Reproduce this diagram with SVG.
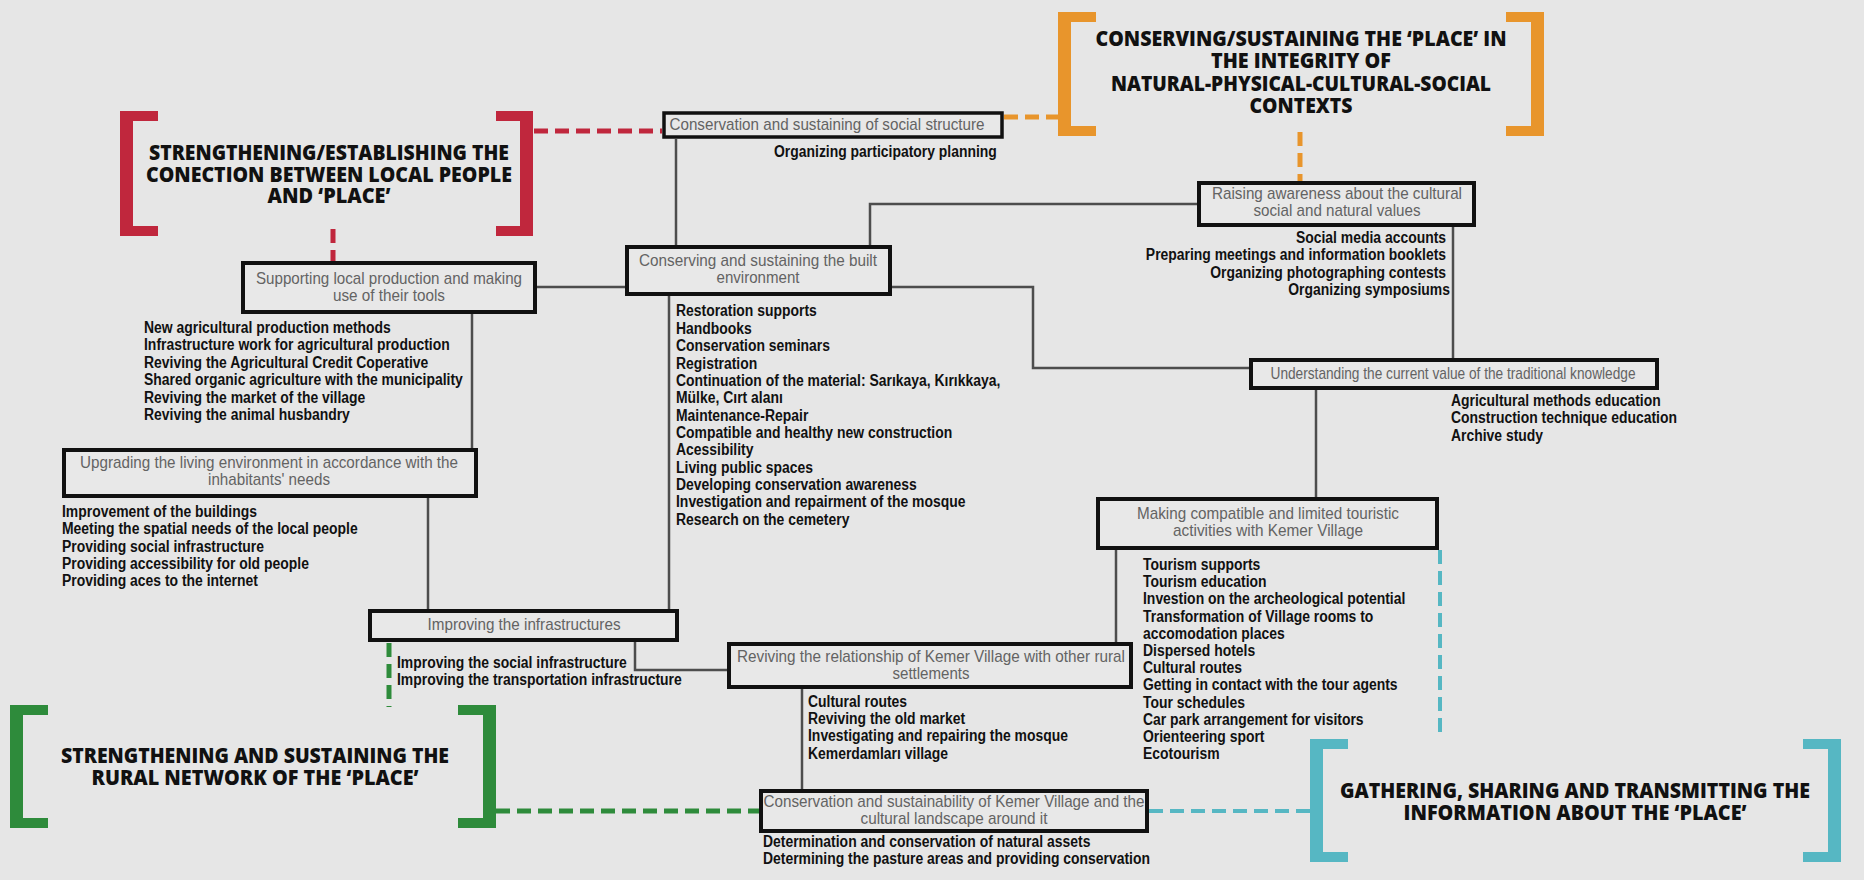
<svg xmlns="http://www.w3.org/2000/svg" width="1864" height="880" viewBox="0 0 1864 880">
<style>
.bg{fill:#e6e6e6}
.box{fill:#e8e8e8;stroke:#111;stroke-width:4}
.t{font-family:"Liberation Sans",Arial,sans-serif;font-size:17px;fill:#636363;text-anchor:middle}
.l{font-family:"Liberation Sans",Arial,sans-serif;font-size:17px;font-weight:700;fill:#111}
.r{text-anchor:end}
.h{font-family:"Open Sans","Liberation Sans",sans-serif;font-weight:800;font-size:20.5px;fill:#111;text-anchor:middle}
.c{fill:none;stroke:#4d4d4d;stroke-width:2.5}
.d{fill:none;stroke-width:5;stroke-dasharray:14 7}
.red{stroke:#c0273d}.redf{fill:#c0273d}
.org{stroke:#e8952c}.orgf{fill:#e8952c}
.grn{stroke:#2e8b3b}.grnf{fill:#2e8b3b}
.cyn{stroke:#56b7c3}.cynf{fill:#56b7c3}
</style>
<rect class="bg" x="0" y="0" width="1864" height="880"/>

<g id="connectors">
  <path class="c" d="M676,139 V245"/>
  <path class="c" d="M1197,204 H870 V245"/>
  <path class="c" d="M537,287 H625"/>
  <path class="c" d="M892,287 H1033 V368 H1249"/>
  <path class="c" d="M1453,227 V358"/>
  <path class="c" d="M1316,390 V497"/>
  <path class="c" d="M472,314 V448"/>
  <path class="c" d="M428,498 V609"/>
  <path class="c" d="M669,296 V609"/>
  <path class="c" d="M635,642 V670 H727"/>
  <path class="c" d="M1116,550 V642"/>
  <path class="c" d="M802,689 V789"/>
  <path class="d red" d="M534,131 H662"/>
  <path class="d red" d="M333,229 V261"/>
  <path class="d org" d="M1004,117 H1058"/>
  <path class="d org" d="M1300,132 V181"/>
  <path class="d grn" d="M389,643 V707"/>
  <path class="d grn" d="M496,811 H759"/>
  <path class="d cyn" d="M1440,550 V737" style="stroke-width:4"/>
  <path class="d cyn" d="M1149,811 H1310" style="stroke-width:4"/>
</g>

<g id="theme-red">
  <path class="redf" d="M120,111 H158 V121 H133 V226 H158 V236 H120 Z"/>
  <path class="redf" d="M533,111 H496 V121 H520 V226 H496 V236 H533 Z"/>
  <text class="h" x="329" y="160" textLength="360" lengthAdjust="spacingAndGlyphs">STRENGTHENING/ESTABLISHING THE</text>
  <text class="h" x="329" y="182" textLength="366" lengthAdjust="spacingAndGlyphs">CONECTION BETWEEN LOCAL PEOPLE</text>
  <text class="h" x="329" y="203" textLength="123" lengthAdjust="spacingAndGlyphs">AND ‘PLACE’</text>
</g>

<g id="theme-orange">
  <path class="orgf" d="M1058,12 H1096 V22 H1071 V126 H1096 V136 H1058 Z"/>
  <path class="orgf" d="M1544,12 H1506 V22 H1531 V126 H1506 V136 H1544 Z"/>
  <text class="h" x="1301" y="46" textLength="411" lengthAdjust="spacingAndGlyphs">CONSERVING/SUSTAINING THE ‘PLACE’ IN</text>
  <text class="h" x="1301" y="68" textLength="180" lengthAdjust="spacingAndGlyphs">THE INTEGRITY OF</text>
  <text class="h" x="1301" y="91" textLength="380" lengthAdjust="spacingAndGlyphs">NATURAL-PHYSICAL-CULTURAL-SOCIAL</text>
  <text class="h" x="1301" y="113" textLength="103" lengthAdjust="spacingAndGlyphs">CONTEXTS</text>
</g>

<g id="theme-green">
  <path class="grnf" d="M10,705 H48 V715 H23 V818 H48 V828 H10 Z"/>
  <path class="grnf" d="M496,705 H458 V715 H483 V818 H458 V828 H496 Z"/>
  <text class="h" x="255" y="763" textLength="388" lengthAdjust="spacingAndGlyphs">STRENGTHENING AND SUSTAINING THE</text>
  <text class="h" x="255" y="785" textLength="327" lengthAdjust="spacingAndGlyphs">RURAL NETWORK OF THE ‘PLACE’</text>
</g>

<g id="theme-cyan">
  <path class="cynf" d="M1310,739 H1348 V749 H1323 V852 H1348 V862 H1310 Z"/>
  <path class="cynf" d="M1841,739 H1803 V749 H1828 V852 H1803 V862 H1841 Z"/>
  <text class="h" x="1575" y="798" textLength="470" lengthAdjust="spacingAndGlyphs">GATHERING, SHARING AND TRANSMITTING THE</text>
  <text class="h" x="1575" y="820" textLength="343" lengthAdjust="spacingAndGlyphs">INFORMATION ABOUT THE ‘PLACE’</text>
</g>

<g id="node-social">
  <rect class="box" x="664" y="113" width="338" height="24" style="stroke-width:3.5"/>
  <text class="t" x="827" y="130" textLength="315" lengthAdjust="spacingAndGlyphs">Conservation and sustaining of social structure</text>
  <g transform="translate(774 0) scale(0.82 1)">
    <text class="l" x="0" y="157">Organizing participatory planning</text>
  </g>
</g>

<g id="node-supporting">
  <rect class="box" x="243" y="263" width="292" height="49"/>
  <text class="t" x="389" y="284" textLength="266" lengthAdjust="spacingAndGlyphs">Supporting local production and making</text>
  <text class="t" x="389" y="301" textLength="112" lengthAdjust="spacingAndGlyphs">use of their tools</text>
  <g transform="translate(144 0) scale(0.82 1)">
  <text class="l" y="333">
    <tspan x="0">New agricultural production methods</tspan>
    <tspan x="0" dy="17.4">Infrastructure work for agricultural production</tspan>
    <tspan x="0" dy="17.4">Reviving the Agricultural Credit Coperative</tspan>
    <tspan x="0" dy="17.4">Shared organic agriculture with the municipality</tspan>
    <tspan x="0" dy="17.4">Reviving the market of the village</tspan>
    <tspan x="0" dy="17.4">Reviving the animal husbandry</tspan>
  </text>
  </g>
</g>

<g id="node-built">
  <rect class="box" x="627" y="247" width="263" height="47"/>
  <text class="t" x="758" y="266" textLength="238" lengthAdjust="spacingAndGlyphs">Conserving and sustaining the built</text>
  <text class="t" x="758" y="283" textLength="83" lengthAdjust="spacingAndGlyphs">environment</text>
  <g transform="translate(676 0) scale(0.82 1)">
  <text class="l" y="316.5">
    <tspan x="0">Restoration supports</tspan>
    <tspan x="0" dy="17.35">Handbooks</tspan>
    <tspan x="0" dy="17.35">Conservation seminars</tspan>
    <tspan x="0" dy="17.35">Registration</tspan>
    <tspan x="0" dy="17.35">Continuation of the material: Sarıkaya, Kırıkkaya,</tspan>
    <tspan x="0" dy="17.35">Mülke, Cırt alanı</tspan>
    <tspan x="0" dy="17.35">Maintenance-Repair</tspan>
    <tspan x="0" dy="17.35">Compatible and healthy new construction</tspan>
    <tspan x="0" dy="17.35">Acessibility</tspan>
    <tspan x="0" dy="17.35">Living public spaces</tspan>
    <tspan x="0" dy="17.35">Developing conservation awareness</tspan>
    <tspan x="0" dy="17.35">Investigation and repairment of the mosque</tspan>
    <tspan x="0" dy="17.35">Research on the cemetery</tspan>
  </text>
  </g>
</g>

<g id="node-raising">
  <rect class="box" x="1199" y="183" width="275" height="42"/>
  <text class="t" x="1337" y="199" textLength="250" lengthAdjust="spacingAndGlyphs">Raising awareness about the cultural</text>
  <text class="t" x="1337" y="216" textLength="167" lengthAdjust="spacingAndGlyphs">social and natural values</text>
  <g transform="translate(1450 0) scale(0.82 1)">
  <text class="l r" y="243">
    <tspan x="0">Social media accounts</tspan>
    <tspan x="0" dy="17.4">Preparing meetings and information booklets</tspan>
    <tspan x="0" dy="17.4">Organizing photographing contests</tspan>
    <tspan x="0" dy="17.4">Organizing symposiums</tspan>
  </text>
  </g>
</g>

<g id="node-understanding">
  <rect class="box" x="1251" y="360" width="406" height="28"/>
  <text class="t" x="1453" y="379" textLength="365" lengthAdjust="spacingAndGlyphs">Understanding the current value of the traditional knowledge</text>
  <g transform="translate(1451 0) scale(0.82 1)">
  <text class="l" y="406">
    <tspan x="0">Agricultural methods education</tspan>
    <tspan x="0" dy="17.4">Construction technique education</tspan>
    <tspan x="0" dy="17.4">Archive study</tspan>
  </text>
  </g>
</g>

<g id="node-upgrading">
  <rect class="box" x="64" y="450" width="412" height="46"/>
  <text class="t" x="269" y="468" textLength="378" lengthAdjust="spacingAndGlyphs">Upgrading the living environment in accordance with the</text>
  <text class="t" x="269" y="485" textLength="122" lengthAdjust="spacingAndGlyphs">inhabitants' needs</text>
  <g transform="translate(62 0) scale(0.82 1)">
  <text class="l" y="517">
    <tspan x="0">Improvement of the buildings</tspan>
    <tspan x="0" dy="17.3">Meeting the spatial needs of the local people</tspan>
    <tspan x="0" dy="17.3">Providing social infrastructure</tspan>
    <tspan x="0" dy="17.3">Providing accessibility for old people</tspan>
    <tspan x="0" dy="17.3">Providing aces to the internet</tspan>
  </text>
  </g>
</g>

<g id="node-making">
  <rect class="box" x="1098" y="499" width="339" height="49"/>
  <text class="t" x="1268" y="519" textLength="262" lengthAdjust="spacingAndGlyphs">Making compatible and limited touristic</text>
  <text class="t" x="1268" y="536" textLength="190" lengthAdjust="spacingAndGlyphs">activities with Kemer Village</text>
  <g transform="translate(1143 0) scale(0.82 1)">
  <text class="l" y="570">
    <tspan x="0">Tourism supports</tspan>
    <tspan x="0" dy="17.2">Tourism education</tspan>
    <tspan x="0" dy="17.2">Investion on the archeological potential</tspan>
    <tspan x="0" dy="17.2">Transformation of Village rooms to</tspan>
    <tspan x="0" dy="17.2">accomodation places</tspan>
    <tspan x="0" dy="17.2">Dispersed hotels</tspan>
    <tspan x="0" dy="17.2">Cultural routes</tspan>
    <tspan x="0" dy="17.2">Getting in contact with the tour agents</tspan>
    <tspan x="0" dy="17.2">Tour schedules</tspan>
    <tspan x="0" dy="17.2">Car park arrangement for visitors</tspan>
    <tspan x="0" dy="17.2">Orienteering sport</tspan>
    <tspan x="0" dy="17.2">Ecotourism</tspan>
  </text>
  </g>
</g>

<g id="node-improving">
  <rect class="box" x="370" y="611" width="307" height="29"/>
  <text class="t" x="524" y="630" textLength="193" lengthAdjust="spacingAndGlyphs">Improving the infrastructures</text>
  <g transform="translate(397 0) scale(0.82 1)">
  <text class="l" y="668">
    <tspan x="0">Improving the social infrastructure</tspan>
    <tspan x="0" dy="17.3">Improving the transportation infrastructure</tspan>
  </text>
  </g>
</g>

<g id="node-reviving">
  <rect class="box" x="729" y="644" width="402" height="43"/>
  <text class="t" x="931" y="662" textLength="388" lengthAdjust="spacingAndGlyphs">Reviving the relationship of Kemer Village with other rural</text>
  <text class="t" x="931" y="679" textLength="77" lengthAdjust="spacingAndGlyphs">settlements</text>
  <g transform="translate(808 0) scale(0.82 1)">
  <text class="l" y="707">
    <tspan x="0">Cultural routes</tspan>
    <tspan x="0" dy="17.2">Reviving the old market</tspan>
    <tspan x="0" dy="17.2">Investigating and repairing the mosque</tspan>
    <tspan x="0" dy="17.2">Kemerdamları village</tspan>
  </text>
  </g>
</g>

<g id="node-kemer">
  <rect class="box" x="761" y="791" width="386" height="40"/>
  <text class="t" x="954" y="807" textLength="381" lengthAdjust="spacingAndGlyphs">Conservation and sustainability of Kemer Village and the</text>
  <text class="t" x="954" y="824" textLength="187" lengthAdjust="spacingAndGlyphs">cultural landscape around it</text>
  <g transform="translate(763 0) scale(0.82 1)">
  <text class="l" y="847">
    <tspan x="0">Determination and conservation of natural assets</tspan>
    <tspan x="0" dy="17.3">Determining the pasture areas and providing conservation</tspan>
  </text>
  </g>
</g>
</svg>
